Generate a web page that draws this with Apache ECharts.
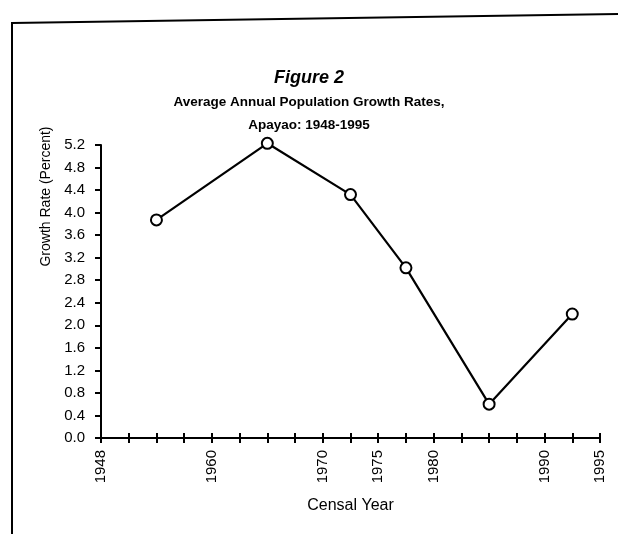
<!DOCTYPE html>
<html>
<head>
<meta charset="utf-8">
<script src="https://cdn.jsdelivr.net/npm/echarts@6/dist/echarts.min.js"></script>
<style>
html,body{margin:0;padding:0;background:#fff;}
#chart{width:618px;height:534px;}
</style>
</head>
<body>
<div id="chart"></div>
<script>
// Tick positions along the x axis (19 evenly spaced ticks); labels only at census years
const xTickLabels = ['1948','','','','1960','','','','1970','','1975','','1980','','','','1990','','1995'];
// Each growth rate is plotted at the tick in the middle of its intercensal period
const periods = ['1948-1960','1960-1970','1970-1975','1975-1980','1980-1990','1990-1995'];
const periodTick = [2, 6, 9, 11, 14, 17];
const growthRates = [3.87, 5.23, 4.32, 3.02, 0.60, 2.20];
const yMin = 0, yMax = 5.2, yStep = 0.4;
const titleLines = ['Figure 2', 'Average Annual Population Growth Rates,', 'Apayao: 1948-1995'];

const FONT = '"Liberation Sans", Arial, sans-serif';
const chart = echarts.init(document.getElementById('chart'), null, {renderer: 'canvas'});

const seriesData = periodTick.map((t, i) => ({value: [t, growthRates[i]], name: periods[i]}));

const xBase = {
  type: 'value', min: 0, max: xTickLabels.length - 1, interval: 1,
  gridIndex: 0, position: 'bottom', splitLine: {show: false}
};

chart.setOption({
  animation: false,
  backgroundColor: '#ffffff',
  title: [
    {
      text: titleLines[0], left: 'center', top: 64,
      textStyle: {fontFamily: FONT, fontSize: 18, fontWeight: 'bold', fontStyle: 'italic', color: '#000'}
    },
    {
      text: titleLines[1], left: 'center', top: 90,
      textStyle: {fontFamily: FONT, fontSize: 13.5, fontWeight: 'bold', color: '#000'}
    },
    {
      text: titleLines[2], left: 'center', top: 113,
      textStyle: {fontFamily: FONT, fontSize: 13.5, fontWeight: 'bold', color: '#000'}
    }
  ],
  grid: {left: 101, right: 18, top: 145, bottom: 96, containLabel: false},
  xAxis: [
    Object.assign({}, xBase, {
      name: 'Censal Year', nameLocation: 'middle', nameGap: 60,
      nameTextStyle: {fontFamily: FONT, fontSize: 16, color: '#000'},
      axisLine: {show: true, lineStyle: {color: '#000', width: 2}},
      axisTick: {show: true, length: 5, lineStyle: {color: '#000', width: 2}},
      axisLabel: {
        show: true, rotate: 90, margin: 12, interval: 0,
        fontFamily: FONT, fontSize: 15, color: '#000',
        formatter: v => xTickLabels[Math.round(v)] || ''
      }
    }),
    Object.assign({}, xBase, {
      axisLine: {show: false},
      axisTick: {show: true, inside: true, length: 5, lineStyle: {color: '#000', width: 2}},
      axisLabel: {show: false}
    })
  ],
  yAxis: {
    type: 'value', min: yMin, max: yMax, interval: yStep,
    name: 'Growth Rate (Percent)', nameLocation: 'middle', nameGap: 44, nameRotate: 90,
    nameTextStyle: {fontFamily: FONT, fontSize: 14, color: '#000', padding: [0, 0, 0, 190]},
    axisLine: {show: true, lineStyle: {color: '#000', width: 2}},
    axisTick: {show: true, length: 6, lineStyle: {color: '#000', width: 2}},
    axisLabel: {
      margin: 16, fontFamily: FONT, fontSize: 15, color: '#000',
      formatter: v => v.toFixed(1)
    },
    splitLine: {show: false}
  },
  graphic: [
    {type: 'line', shape: {x1: 12, y1: 23, x2: 618, y2: 14}, style: {stroke: '#000', lineWidth: 2}},
    {type: 'line', shape: {x1: 12, y1: 22, x2: 12, y2: 534}, style: {stroke: '#000', lineWidth: 2}}
  ],
  series: [{
    type: 'line',
    xAxisIndex: 0,
    clip: false,
    data: seriesData,
    symbol: 'circle', symbolSize: 11,
    lineStyle: {color: '#000', width: 2.2},
    itemStyle: {color: '#fff', borderColor: '#000', borderWidth: 2},
    label: {show: false}
  }]
});
</script>
</body>
</html>
